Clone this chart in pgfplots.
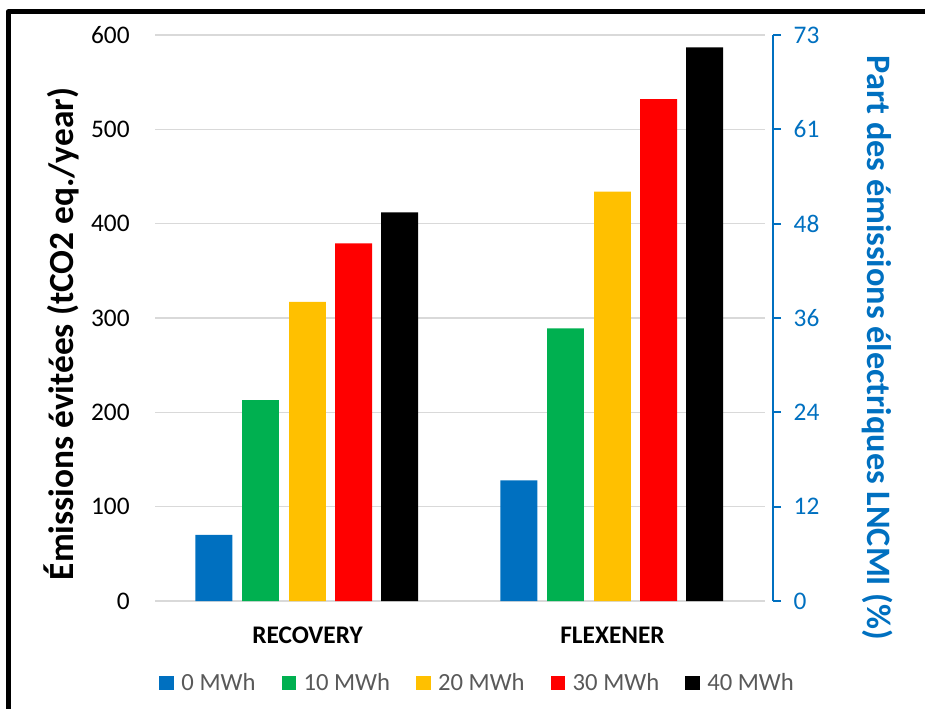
\documentclass[border=0pt]{standalone}
\usepackage{fontspec}
\setmainfont{Carlito}
\usepackage{pgfplots}
\pgfplotsset{compat=1.18}
\definecolor{cblue}{HTML}{0070C0}
\definecolor{cgreen}{HTML}{00B050}
\definecolor{cyellow}{HTML}{FFC000}
\definecolor{cred}{HTML}{FF0000}
\definecolor{cgrid}{HTML}{D9D9D9}
\definecolor{cgray}{HTML}{595959}
\begin{document}
\begin{tikzpicture}[x=0.75pt,y=0.75pt]
\path[use as bounding box] (0,0) rectangle (925,708);
\draw[line width=3.75pt, line join=round] (8,-20) -- (8,696) -- (950,696);
\begin{axis}[
  at={(116.25pt,80.25pt)}, anchor=south west, scale only axis,
  width=457.5pt, height=424.5pt,
  xmin=-0.5, xmax=1.5, ymin=0, ymax=600,
  axis line style={draw=none},
  ymajorgrids, grid style={cgrid, line width=1.2pt},
  xtick={0,1}, xticklabels={RECOVERY,FLEXENER},
  ytick={0,100,...,600},
  major tick length=0pt,
  /pgf/number format/assume math mode=true,
  tick label style={font=\fontsize{19}{22}\selectfont},
  xticklabel style={font=\bfseries\fontsize{19}{22}\selectfont, yshift=-16pt},
  yticklabel style={xshift=-15.5pt},
  legend columns=5,
  legend style={draw=none, fill=none, at={(0.5295,-0.145)}, anchor=center,
    font=\fontsize{18.5}{22}\selectfont, text=cgray,
    nodes={inner xsep=2pt},
    /tikz/every even column/.append style={column sep=17.5pt}},
  legend image code/.code={\fill[#1] (0pt,-5.2pt) rectangle (11pt,5.2pt); \path (14.5pt,0pt);},
]
\addplot[ybar, fill=cblue, draw=none, bar width=0.121, bar shift=-0.307] coordinates {(0,70) (1,128)};
\addplot[ybar, fill=cgreen, draw=none, bar width=0.121, bar shift=-0.154] coordinates {(0,213) (1,289)};
\addplot[ybar, fill=cyellow, draw=none, bar width=0.121, bar shift=0] coordinates {(0,317) (1,434)};
\addplot[ybar, fill=cred, draw=none, bar width=0.121, bar shift=0.151] coordinates {(0,379) (1,532)};
\addplot[ybar, fill=black, draw=none, bar width=0.121, bar shift=0.302] coordinates {(0,412) (1,587)};
\legend{0 MWh,10 MWh,20 MWh,30 MWh,40 MWh}
\end{axis}
\begin{axis}[
  at={(116.25pt,80.25pt)}, anchor=south west, scale only axis,
  width=463.5pt, height=424.5pt,
  xmin=0, xmax=1, ymin=0, ymax=600,
  hide x axis, axis y line*=right,
  ytick={0,100,...,600}, yticklabels={0,12,24,36,48,61,73},
  tick align=outside, major tick length=6pt,
  y axis line style={cblue, line width=1.6pt},
  ytick style={cblue, line width=1.6pt},
  yticklabel style={text=cblue, font=\fontsize{19}{22}\selectfont, xshift=6pt},
]
\addplot[draw=none] coordinates {(0,0) (1,600)};
\end{axis}
\node[rotate=90, font=\bfseries\fontsize{26.5}{30}\selectfont] at (61,374) {Émissions évitées (tCO2 eq./year)};
\node[rotate=-90, text=cblue, font=\bfseries\fontsize{25.7}{30}\selectfont] at (878,360) {Part des émissions électriques LNCMI (\%)};
\end{tikzpicture}
\end{document}
